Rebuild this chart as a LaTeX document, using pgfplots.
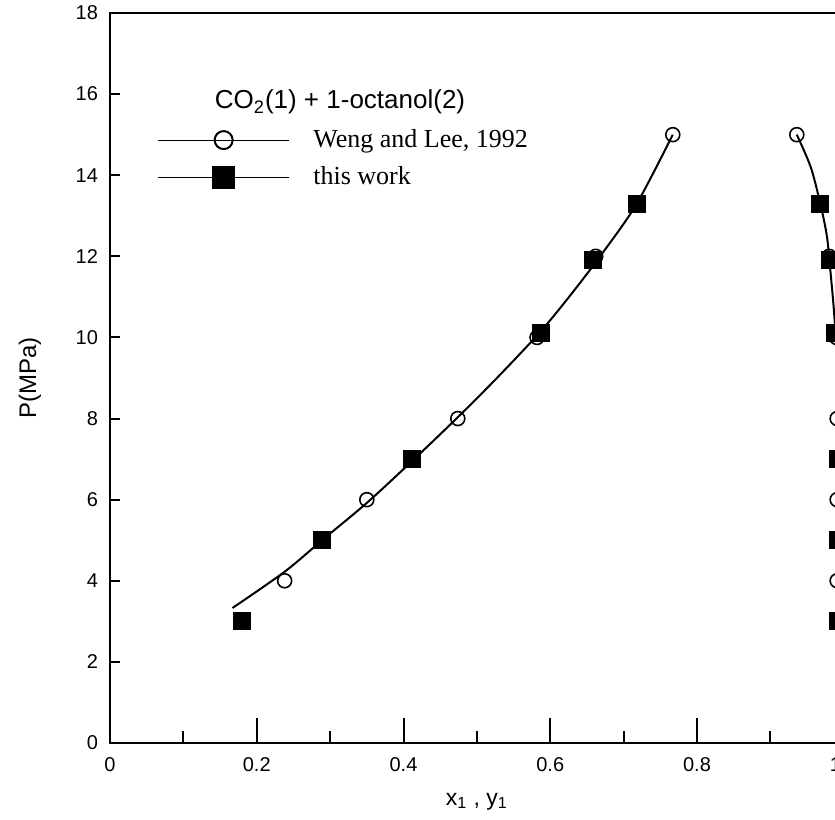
\documentclass[border=0pt]{standalone}
\usepackage{fontspec}
\setmainfont{Liberation Sans}
\newfontfamily\tnr{Liberation Serif}
\usepackage{pgfplots}
\pgfplotsset{compat=1.18}

\begin{document}
\begin{tikzpicture}
\begin{axis}[
  at={(0,0)}, anchor=south west,
  scale only axis,
  width=366.875pt, height=365pt,
  xmin=0, xmax=1, ymin=0, ymax=18,
  axis line style={line width=1pt},
  xtick={0,0.2,...,1.0},
  minor xtick={0.1,0.3,...,0.9},
  xticklabels={0,0.2,0.4,0.6,0.8,1.0},
  ytick=\empty,
  tick align=inside,
  xtick pos=bottom,
  major tick length=12.5pt,
  minor tick length=6pt,
  every tick/.style={black, line width=1pt},
  xticklabel style={font=\fontsize{10}{12}\selectfont, yshift=-3.5pt},
  xlabel={x\textsubscript{1} , y\textsubscript{1}},
  xlabel style={font=\fontsize{11.5}{14}\selectfont, at={(axis description cs:0.5,-0.08)}, anchor=center},
  ylabel={P(MPa)},
  ylabel style={font=\fontsize{12}{14}\selectfont, at={(axis description cs:-0.109,0.5)}, anchor=center, rotate=0},
  legend style={draw=none, fill=none, at={(axis cs:0.064,14.41)}, anchor=west,
    inner sep=0pt, row sep=5.5pt,
    font=\tnr\fontsize{13}{15}\selectfont,
    nodes={inner sep=0pt, text height=10pt, text depth=3pt},
    /tikz/every odd column/.append style={column sep=12pt}},
  legend cell align=left,
  legend image code/.code={
    \draw[#1, line width=0.5pt, mark=none] (0pt,0pt) -- (65.5pt,0pt);
    \draw[#1, line width=1pt] plot coordinates {(32.9pt,0pt)};
  },
]
\addlegendimage{black, mark=o, mark size=4.5pt}
\addlegendentry{Weng and Lee, 1992}
\addlegendimage{black, mark=square*, mark size=5.25pt}
\addlegendentry{this work}

% liquid side curve
\addplot[black, line width=1pt, smooth, forget plot] coordinates {
  (0.167,3.33) (0.2385,4.23) (0.291,5.03) (0.350,5.92) (0.4116,6.95) (0.475,8.05)
  (0.530,9.05) (0.587,10.15) (0.630,11.1) (0.672,12.1) (0.718,13.3) (0.767,15.0)
};
% vapour side curve
\addplot[black, line width=1pt, smooth, forget plot] coordinates {
  (0.936,15.0) (0.955,14.2) (0.968,13.3) (0.977,12.5) (0.982,11.6)
  (0.986,10.8) (0.989,10.0) (0.991,9.0) (0.993,8.0) (0.995,6.0) (0.996,4.0) (0.997,3.0)
};

% Weng and Lee, 1992
\addplot[only marks, mark=o, mark size=3.5pt, black, line width=0.8pt, forget plot] coordinates {
  (0.238,4) (0.350,6) (0.474,8) (0.582,10) (0.662,12) (0.767,15)
  (0.936,15) (0.980,12) (0.990,10) (0.991,8) (0.991,6) (0.991,4)
};
% this work
\addplot[only marks, mark=square*, mark size=4.25pt, black, forget plot] coordinates {
  (0.180,3) (0.289,5) (0.4116,7) (0.587,10.1) (0.658,11.9) (0.718,13.3)
  (0.968,13.3) (0.981,11.9) (0.988,10.1) (0.992,7) (0.992,5) (0.992,3)
};

\node[font=\fontsize{13}{15}\selectfont] at (axis cs:0.3135,15.8)
  {CO\textsubscript{2}(1) + 1-octanol(2)};
\end{axis}

% y ticks, shorter than the x ticks
\begin{axis}[
  at={(0,0)}, anchor=south west,
  scale only axis,
  width=366.875pt, height=365pt,
  xmin=0, xmax=1, ymin=0, ymax=18,
  axis line style={draw=none},
  xtick=\empty,
  ytick={0,2,...,18},
  tick align=inside,
  ytick pos=left,
  major tick length=5pt,
  every tick/.style={black, line width=1pt},
  /pgf/number format/assume math mode=true,
  yticklabel style={font=\fontsize{10}{12}\selectfont, xshift=-2.5pt},
]
\end{axis}

\pgfresetboundingbox
\path[use as bounding box] (-55pt,-38pt) rectangle (362.5pt,371.5pt);
\end{tikzpicture}
\end{document}
